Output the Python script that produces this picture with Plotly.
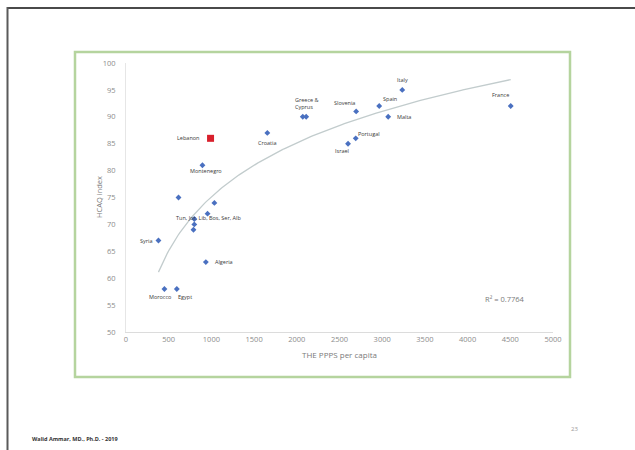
"""HAQ index vs health expenditure per capita, slide-style scatter with log trendline."""

import numpy as np
import plotly.graph_objects as go

# Data
COUNTRIES = ["Croatia", "Greece", "Cyprus", "Slovenia", "Spain", "Italy", "Malta",
             "France", "Portugal", "Israel", "Montenegro", "Tunisia", "Jordan",
             "Libya", "Bosnia", "Serbia", "Albania", "Syria", "Algeria",
             "Morocco", "Egypt"]
THE_PPPS = [1655, 2070, 2110, 2695, 2965, 3235, 3070,
            4505, 2690, 2600, 895, 615, 1035,
            955, 800, 800, 790, 380, 935,
            450, 595]
HAQ = [87, 90, 90, 91, 92, 95, 90,
       92, 86, 85, 81, 75, 74,
       72, 71, 70, 69, 67, 63,
       58, 58]

LEBANON_X = [990]
LEBANON_Y = [86]

R2_TEXT = "R² = 0.7764"

# text labels: (text, x, y) taken from the points above
LABELS = [
    ("Lebanon", 990, 86), ("Croatia", 1655, 87), ("Greece &<br>Cyprus", 2090, 90),
    ("Slovenia", 2695, 91), ("Spain", 2965, 92), ("Italy", 3235, 95),
    ("Malta", 3070, 90), ("France", 4505, 92), ("Portugal", 2690, 86),
    ("Israel", 2600, 85), ("Montenegro", 895, 81),
    ("Tun, Jor, Lib, Bos, Ser, Alb", 955, 72), ("Syria", 380, 67),
    ("Algeria", 935, 63), ("Morocco", 450, 58), ("Egypt", 595, 58),
]

# label placement (xshift, yshift, xanchor, yanchor)
LABEL_POS = {
    "Lebanon": (-10, 0, "right", "middle"),
    "Croatia": (0, -4, "center", "top"),
    "Greece &<br>Cyprus": (-11, 4, "left", "bottom"),
    "Slovenia": (-12, 8, "center", "middle"),
    "Spain": (11, 7, "center", "middle"),
    "Italy": (0, 4, "center", "bottom"),
    "Malta": (7, 0, "left", "middle"),
    "France": (-10, 11, "center", "middle"),
    "Portugal": (13, 4, "center", "middle"),
    "Israel": (-6, -7, "center", "middle"),
    "Montenegro": (4, -6, "center", "middle"),
    "Tun, Jor, Lib, Bos, Ser, Alb": (1, -4, "center", "middle"),
    "Syria": (-4, 0, "right", "middle"),
    "Algeria": (7, 0, "left", "middle"),
    "Morocco": (-4, -8, "center", "middle"),
    "Egypt": (8, -8, "center", "middle"),
}

W, H = 635, 450
PLOT_L, PLOT_R, PLOT_T, PLOT_B = 126, 553, 63, 332
FONT = "Open Sans, Liberation Sans, sans-serif"
TICK_COLOR = "#8c8c8c"


def px_x(p):
    return (p - PLOT_L) / (PLOT_R - PLOT_L)


def px_y(p):
    return (PLOT_B - p) / (PLOT_B - PLOT_T)


# logarithmic trendline fitted to the data
all_x = np.array(THE_PPPS + LEBANON_X, dtype=float)
all_y = np.array(HAQ + LEBANON_Y, dtype=float)
a, b = np.polyfit(np.log(all_x), all_y, 1)
tx = np.linspace(all_x.min(), all_x.max(), 200)
ty = a * np.log(tx) + b

fig = go.Figure()

fig.add_trace(go.Scatter(x=tx, y=ty, mode="lines",
                         line=dict(color="#c2cccd", width=1.3),
                         hoverinfo="skip"))
fig.add_trace(go.Scatter(x=THE_PPPS, y=HAQ, mode="markers", text=COUNTRIES,
                         marker=dict(symbol="diamond", size=4.5, color="#4a70c0")))
fig.add_trace(go.Scatter(x=LEBANON_X, y=LEBANON_Y, mode="markers", text=["Lebanon"],
                         marker=dict(symbol="square", size=7, color="#d8202c")))

annotations = []
for text, x, y in LABELS:
    xs, ys, xa, ya = LABEL_POS[text]
    annotations.append(dict(x=x, y=y, text=text, showarrow=False, xref="x", yref="y",
                            xshift=xs, yshift=ys, xanchor=xa, yanchor=ya, align="left",
                            font=dict(family=FONT, size=5.5, color="#3a3a3a")))

annotations += [
    dict(x=px_x(527), y=px_y(306), xref="paper", yref="paper", text=R2_TEXT,
         showarrow=False, font=dict(family=FONT, size=7.5, color="#7a7a7a")),
    dict(x=px_x(92), y=px_y(197), xref="paper", yref="paper", text="HCAQ index",
         textangle=-90, showarrow=False, font=dict(family=FONT, size=7.5, color="#7a7a7a")),
    dict(x=px_x(339), y=px_y(362), xref="paper", yref="paper", text="THE PPPS per capita",
         showarrow=False, font=dict(family=FONT, size=8, color="#7a7a7a")),
    dict(x=px_x(30), y=px_y(445), xref="paper", yref="paper", xanchor="left",
         text="<b>Walid Ammar, MD., Ph.D. - 2019</b>", showarrow=False,
         font=dict(family=FONT, size=5.5, color="#333333")),
    dict(x=px_x(580), y=px_y(435), xref="paper", yref="paper", text="23",
         showarrow=False, font=dict(family=FONT, size=6, color="#9a9a9a")),
]

shapes = [
    # chart box
    dict(type="rect", xref="paper", yref="paper",
         x0=px_x(75), x1=px_x(570), y0=px_y(377), y1=px_y(52),
         line=dict(color="#b5d49e", width=2.5), layer="below"),
    # slide frame
    dict(type="line", xref="paper", yref="paper",
         x0=px_x(7), x1=px_x(640), y0=px_y(8), y1=px_y(8),
         line=dict(color="#4a4a4a", width=2)),
    dict(type="line", xref="paper", yref="paper",
         x0=px_x(7.5), x1=px_x(7.5), y0=px_y(7), y1=px_y(455),
         line=dict(color="#5a5a5a", width=2)),
]

fig.update_xaxes(range=[0, 5000], dtick=500, showgrid=False, zeroline=False,
                 showline=True, linecolor="#dcdcdc", linewidth=1,
                 ticks="", tickfont=dict(family=FONT, size=7.5, color=TICK_COLOR))
fig.update_yaxes(range=[50, 100], dtick=5, showgrid=False, zeroline=False,
                 showline=True, linecolor="#e6e6e6", linewidth=1,
                 ticks="", ticklabelstandoff=8,
                 tickfont=dict(family=FONT, size=7.5, color=TICK_COLOR))

fig.update_layout(width=W, height=H, showlegend=False,
                  margin=dict(l=PLOT_L, r=W - PLOT_R, t=PLOT_T, b=H - PLOT_B),
                  paper_bgcolor="white", plot_bgcolor="white",
                  annotations=annotations, shapes=shapes)

# drop the page's default body margin so the figure sits at the window corner
fig.write_html("out.html", config={"displayModeBar": False},
               post_script="document.body.style.margin='0';")
